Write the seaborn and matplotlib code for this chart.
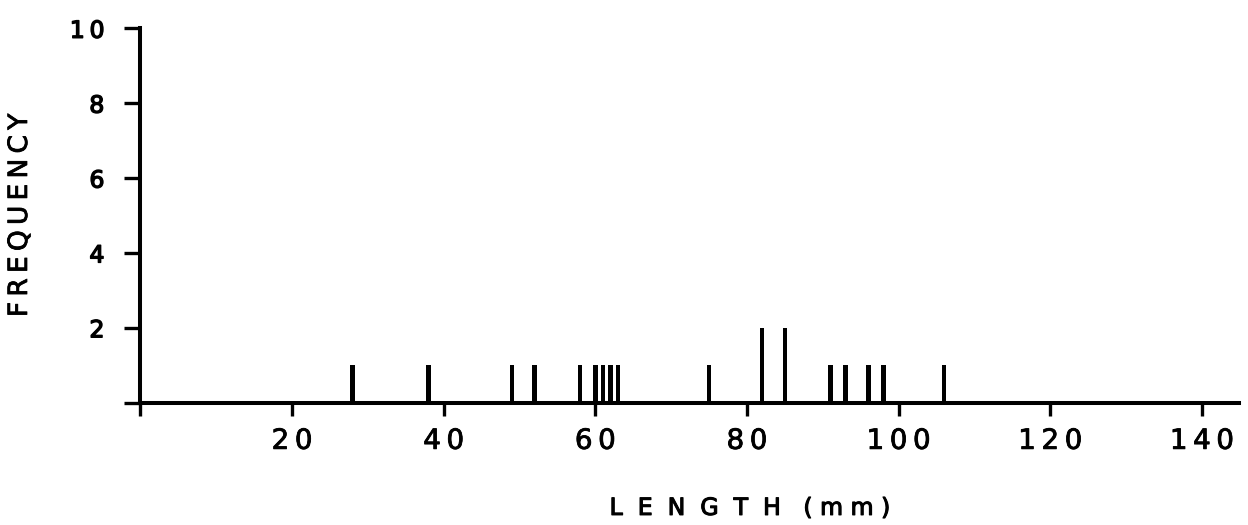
import matplotlib
matplotlib.use('Agg')
import matplotlib.pyplot as plt
from matplotlib import patheffects as pe
import seaborn as sns
import pandas as pd

# ---- data ----
lengths = [28, 38, 49, 52, 58, 60, 61, 62, 63, 75, 82, 85, 91, 93, 96, 98, 106]
counts = [1, 1, 1, 1, 1, 1, 1, 1, 1, 1, 2, 2, 1, 1, 1, 1, 1]
x_ticks = [0, 20, 40, 60, 80, 100, 120, 140]
x_tick_labels = ["", "2\u20090", "4\u20090", "6\u20090", "8\u20090",
                 "1\u20090\u20090", "1\u20092\u20090", "1\u20094\u20090"]
y_ticks = [0, 2, 4, 6, 8, 10]
y_tick_labels = ["", "2", "4", "6", "8", "1\u20090"]
x_label = "L  E  N  G  T  H   ( m m )"
y_label = "F\u2009R\u2009E\u2009Q\u2009U\u2009E\u2009N\u2009C\u2009Y"

sns.set_style('ticks')
plt.rcParams['font.family'] = ['DejaVu Sans']

fig = plt.figure(figsize=(12.48, 5.25), dpi=100)
ax = fig.add_axes([0.1125, 0.233, 0.8803, 0.7131])

df = pd.DataFrame({'length': lengths, 'count': counts})
sns.histplot(data=df, x='length', weights='count', discrete=True, shrink=0.6,
             color='black', edgecolor='none', alpha=1, ax=ax)

ax.set_xlim(0, 144.9)
ax.set_ylim(0, 10)
ax.set_xticks(x_ticks)
ax.set_xticklabels(x_tick_labels)
ax.set_yticks(y_ticks)
ax.set_yticklabels(y_tick_labels)

sns.despine(ax=ax, top=True, right=True)
for side in ('left', 'bottom'):
    ax.spines[side].set_linewidth(2.9)
    ax.spines[side].set_color('black')

ax.tick_params(axis='x', length=9.4, width=2.4, pad=8, labelsize=20,
               direction='out', colors='black')
ax.tick_params(axis='y', length=11.5, width=2.4, pad=14.4, labelsize=17,
               direction='out', colors='black')

for lbl in ax.get_xticklabels():
    lbl.set_path_effects([pe.withStroke(linewidth=0.6, foreground='black')])
for lbl in ax.get_yticklabels():
    lbl.set_path_effects([pe.withStroke(linewidth=1.0, foreground='black')])

ax.set_xlabel(x_label, fontsize=17, color='black',
              path_effects=[pe.withStroke(linewidth=0.8, foreground='black')])
ax.set_ylabel(y_label, fontsize=19, color='black',
              path_effects=[pe.withStroke(linewidth=0.6, foreground='black')])
ax.xaxis.set_label_coords(0.555, -0.249)
ax.yaxis.set_label_coords(-0.0978, 0.5)

fig.savefig('out.png', dpi=100, facecolor='white')
